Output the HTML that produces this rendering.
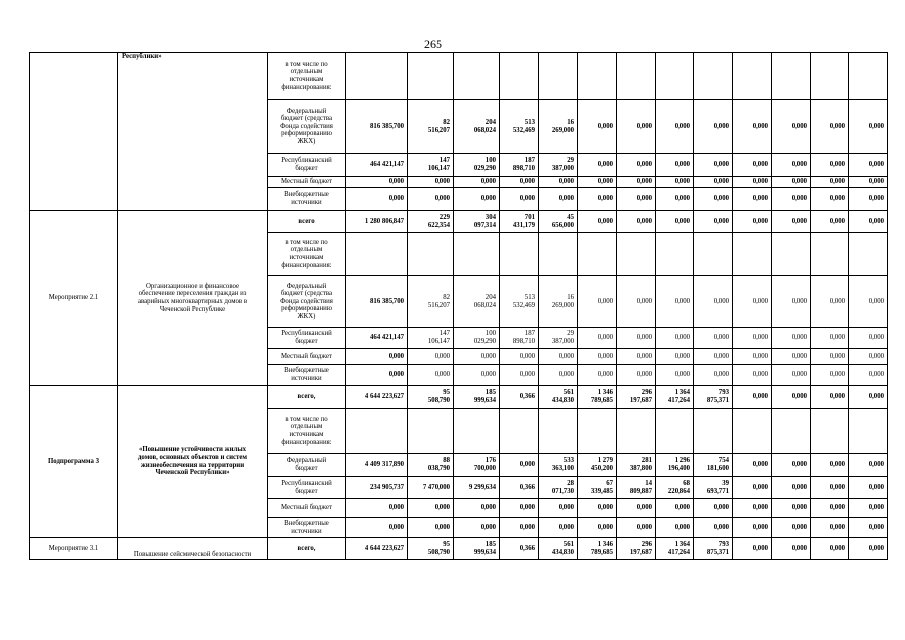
<!DOCTYPE html>
<html><head><meta charset="utf-8">
<style>
body{margin:0;width:905px;height:640px;background:#fff;position:relative;overflow:hidden;font-family:"Liberation Serif",serif;color:#000}
#pn{position:absolute;left:424px;top:37px;font-size:12px}
table{position:absolute;left:29px;top:52px;border-collapse:collapse;table-layout:fixed;font-size:6.8px;line-height:7.6px}
td{border:1px solid #000;padding:0 3px 0 1px;text-align:right;vertical-align:middle;overflow:hidden}
td.c{text-align:center;padding:0 1px}
td.b{font-weight:bold}
</style></head><body>
<div id="pn">265</div>
<table id="t">
<colgroup>
<col style="width:88px"><col style="width:150px"><col style="width:78px"><col style="width:62px"><col style="width:46px"><col style="width:46px"><col style="width:39px"><col style="width:39px"><col style="width:39px"><col style="width:39px"><col style="width:38px"><col style="width:39px"><col style="width:39px"><col style="width:39px"><col style="width:38px"><col style="width:39px">
</colgroup>
<tbody id="tb"></tbody>
</table>
<script>
const Z='0,000';
const z=n=>Array(n).fill(Z);
const inc='в том числе по<br>отдельным<br>источникам<br>финансирования:';
const fedL='Федеральный<br>бюджет (средства<br>Фонда содействия<br>реформированию<br>ЖКХ)';
const repL='Республиканский<br>бюджет';
const locL='Местный бюджет';
const vneL='Внебюджетные<br>источники';
const fed1=['816 385,700','82<br>516,207','204<br>068,024','513<br>532,469','16<br>269,000',...z(8)];
const rep1=['464 421,147','147<br>106,147','100<br>029,290','187<br>898,710','29<br>387,000',...z(8)];
const vs2=['1 280 806,847','229<br>622,354','304<br>097,314','701<br>431,179','45<br>656,000',...z(8)];
const vs3=['4 644 223,627','95<br>508,790','185<br>999,634','0,366','561<br>434,830','1 346<br>789,685','296<br>197,687','1 364<br>417,264','793<br>875,371',...z(4)];
const fed3=['4 409 317,890','88<br>038,790','176<br>700,000','0,000','533<br>363,100','1 279<br>450,200','281<br>387,800','1 296<br>196,400','754<br>181,600',...z(4)];
const rep3=['234 905,737','7 470,000','9 299,634','0,366','28<br>071,730','67<br>339,485','14<br>809,887','68<br>220,864','39<br>693,771',...z(4)];
const rows=[
[47,inc,false,null],
[54,fedL,false,fed1,true],
[23,repL,false,rep1,true],
[11,locL,false,z(13),true],
[23,vneL,false,z(13),true],
[22,'всего',true,vs2,true],
[43,inc,false,null],
[52,fedL,false,fed1,false],
[21,repL,false,rep1,false],
[16,locL,false,z(13),false],
[21,vneL,false,z(13),false],
[23,'всего,',true,vs3,true],
[45,inc,false,null],
[23,'Федеральный<br>бюджет',false,fed3,true],
[22,repL,false,rep3,true],
[19,locL,false,z(13),true],
[20,vneL,false,z(13),true],
[22,'всего,',true,vs3,true]
];
const spans={0:[5,'','<b>Республики»</b>','top'],5:[6,'Мероприятие 2.1','Организационное и финансовое<br>обеспечение переселения граждан из<br>аварийных многоквартирных домов в<br>Чеченской Республике','middle'],11:[6,'<b>Подпрограмма 3</b>','<b>«Повышение устойчивости жилых<br>домов, основных объектов и систем<br>жизнеобеспечения на территории<br>Чеченской Республики»</b>','middle'],17:[1,'Мероприятие 3.1','Повышение сейсмической безопасности','bottom']};
let h='';
rows.forEach((r,i)=>{
 h+=`<tr style="height:${r[0]}px">`;
 if(spans[i]){const s=spans[i];
  h+=`<td class="c" rowspan="${s[0]}" style="vertical-align:${s[3]==='bottom'?'middle':s[3]}">${s[1]}</td>`;
  h+=`<td class="c" rowspan="${s[0]}" style="vertical-align:${s[3]};${s[3]==='top'?'text-align:left;padding-left:4px;':''}">${s[2]}</td>`;}
 h+=`<td class="c${r[2]?' b':''}">${r[1]}</td>`;
 if(!r[3]){for(let k=0;k<13;k++)h+='<td></td>';}
 else r[3].forEach((v,k)=>{h+=`<td class="${(r[4]||k===0)?'b':''}">${v}</td>`;});
 h+='</tr>';
});
document.getElementById('tb').innerHTML=h;
</script>
</body></html>
